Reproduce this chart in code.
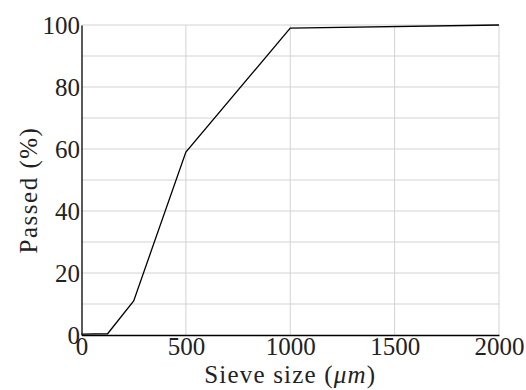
<!DOCTYPE html>
<html>
<head>
<meta charset="utf-8">
<script src="https://cdn.jsdelivr.net/npm/d3@7"></script>
<style>
  body { margin: 0; background: #fff; }
  text { font-family: 'Liberation Serif', 'DejaVu Serif', serif; fill: #222; }
</style>
</head>
<body>
<div id="chart"></div>
<script>
;(function() {
  // sieve curve
  var sieveSizes = [0, 125, 250, 500, 1000, 2000]
  var passed = [0.3, 0.4, 11, 59, 99, 100]
  var xTicks = [0, 500, 1000, 1500, 2000]
  var yTicks = [0, 20, 40, 60, 80, 100]
  var yGrid = [10, 20, 30, 40, 50, 60, 70, 80, 90, 100]

  var margin = { top: 25, right: 27, bottom: 55, left: 81.5 }
  var width = 526 - margin.left - margin.right
  var height = 390 - margin.top - margin.bottom

  var svg = d3
    .select('#chart')
    .append('svg')
    .attr('width', 526)
    .attr('height', 390)
    .append('g')
    .attr('transform', 'translate(' + margin.left + ',' + margin.top + ')')

  var xPositionScale = d3
    .scaleLinear()
    .domain([0, 2000])
    .range([0, width])
  var yPositionScale = d3
    .scaleLinear()
    .domain([0, 100])
    .range([height, 0])

  // grid
  svg
    .selectAll('.hgrid')
    .data(yGrid)
    .enter()
    .append('line')
    .attr('x1', 0)
    .attr('x2', width)
    .attr('y1', d => yPositionScale(d))
    .attr('y2', d => yPositionScale(d))
    .attr('stroke', '#d3d3d3')
    .attr('stroke-width', 1)
  svg
    .selectAll('.vgrid')
    .data(xTicks.slice(1))
    .enter()
    .append('line')
    .attr('x1', d => xPositionScale(d))
    .attr('x2', d => xPositionScale(d))
    .attr('y1', 0)
    .attr('y2', height)
    .attr('stroke', '#d3d3d3')
    .attr('stroke-width', 1)

  // axes
  var xAxis = d3
    .axisBottom(xPositionScale)
    .tickValues(xTicks)
    .tickFormat(d3.format('d'))
    .tickSize(0)
    .tickPadding(2)
  var gx = svg
    .append('g')
    .attr('transform', 'translate(0,' + height + ')')
    .call(xAxis)
  gx.select('.domain').attr('stroke', '#000').attr('stroke-width', 1.3)
  gx.selectAll('text').style('font-size', '25px').attr('fill', '#222')

  var yAxis = d3
    .axisLeft(yPositionScale)
    .tickValues(yTicks)
    .tickFormat(d3.format('d'))
    .tickSize(0)
    .tickPadding(1.5)
  var gy = svg.append('g').call(yAxis)
  gy.select('.domain').attr('stroke', '#000').attr('stroke-width', 1.3)
  gy.selectAll('text').style('font-size', '25px').attr('fill', '#222')

  // curve
  var line = d3
    .line()
    .x(d => xPositionScale(d[0]))
    .y(d => yPositionScale(d[1]))
  svg
    .append('path')
    .datum(d3.zip(sieveSizes, passed))
    .attr('d', line)
    .attr('fill', 'none')
    .attr('stroke', '#000')
    .attr('stroke-width', 1.3)

  // labels
  var xLabel = svg
    .append('text')
    .attr('x', width / 2)
    .attr('y', height + 48)
    .attr('text-anchor', 'middle')
    .style('font-size', '25px')
    .style('letter-spacing', '1.2px')
  xLabel.append('tspan').text('Sieve size (')
  xLabel.append('tspan').style('font-style', 'italic').text('μm')
  xLabel.append('tspan').text(')')

  svg
    .append('text')
    .attr('transform', 'translate(-44.5,' + (height / 2 + 10) + ') rotate(-90)')
    .attr('text-anchor', 'middle')
    .style('font-size', '25px')
    .style('letter-spacing', '1.5px')
    .text('Passed (%)')
})()
</script>
</body>
</html>
